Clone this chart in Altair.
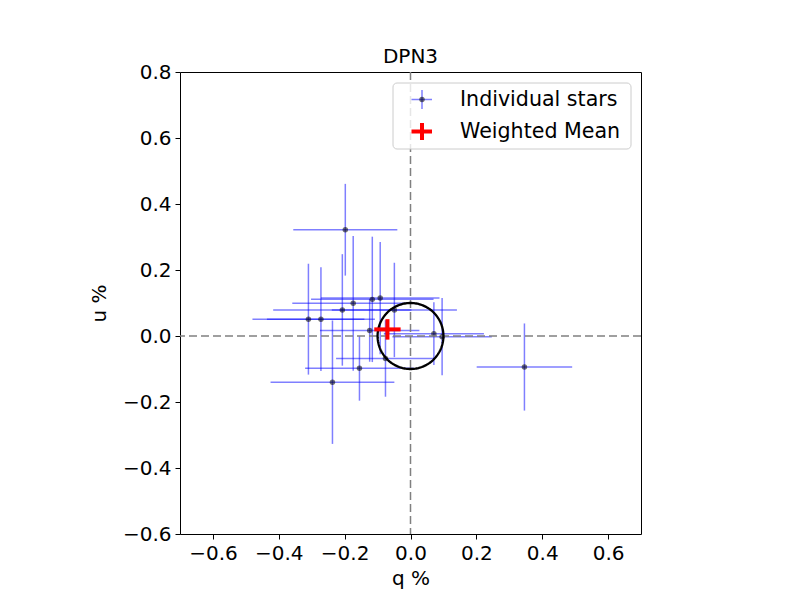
import altair as alt
import numpy as np
import pandas as pd

# Individual stars (q %, u %) with 1-sigma errors
q = [-0.198, -0.310, -0.272, -0.207, -0.174, -0.116, -0.092, -0.049, -0.124, 0.071, 0.096, -0.076, -0.155, -0.237, 0.346]
u = [0.322, 0.051, 0.051, 0.079, 0.099, 0.111, 0.115, 0.079, 0.017, 0.007, -0.002, -0.068, -0.098, -0.140, -0.094]
q_err = [0.158, 0.170, 0.164, 0.210, 0.185, 0.186, 0.180, 0.190, 0.151, 0.152, 0.151, 0.150, 0.165, 0.188, 0.145]
u_err = [0.139, 0.168, 0.157, 0.169, 0.204, 0.190, 0.170, 0.143, 0.095, 0.095, 0.117, 0.116, 0.098, 0.187, 0.132]

# Weighted mean
mean_q = [-0.070]
mean_u = [0.020]
mean_q_err = [0.040]
mean_u_err = [0.031]

circle_radius = 0.1
legend_labels = ["Individual stars", "Weighted Mean"]
title_text = "DPN3"
x_ticks = [-0.6, -0.4, -0.2, 0.0, 0.2, 0.4, 0.6]
y_ticks = [-0.6, -0.4, -0.2, 0.0, 0.2, 0.4, 0.6, 0.8]

FONT = "DejaVu Sans"

stars = pd.DataFrame({"q": q, "u": u, "qe": q_err, "ue": u_err})
stars["q_lo"] = stars.q - stars.qe
stars["q_hi"] = stars.q + stars.qe
stars["u_lo"] = stars.u - stars.ue
stars["u_hi"] = stars.u + stars.ue

mean = pd.DataFrame({"q": mean_q, "u": mean_u, "qe": mean_q_err, "ue": mean_u_err})
mean["q_lo"] = mean.q - mean.qe
mean["q_hi"] = mean.q + mean.qe
mean["u_lo"] = mean.u - mean.ue
mean["u_hi"] = mean.u + mean.ue

ang = np.linspace(0, 2 * np.pi, 181)
circ = pd.DataFrame({"i": np.arange(len(ang)), "q": circle_radius * np.cos(ang), "u": circle_radius * np.sin(ang)})

xs = alt.Scale(domain=[-0.7, 0.7], nice=False, zero=False)
ys = alt.Scale(domain=[-0.6, 0.8], nice=False, zero=False)
xax = alt.Axis(values=x_ticks, format=".1f", title="q %")
yax = alt.Axis(values=y_ticks, format=".1f", title="u %")

base = alt.Chart(stars)

xerr = base.mark_rule(color="blue", opacity=0.5, strokeWidth=1.5).encode(
    x=alt.X("q_lo:Q", scale=xs, axis=xax), x2="q_hi:Q", y=alt.Y("u:Q", scale=ys, axis=yax)
)
yerr = base.mark_rule(color="blue", opacity=0.5, strokeWidth=1.5).encode(
    x="q:Q", y="u_lo:Q", y2="u_hi:Q"
)
dots = base.mark_circle(color="black", opacity=0.55, size=30).encode(x="q:Q", y="u:Q")

vline = alt.Chart(pd.DataFrame({"v": [0.0]})).mark_rule(color="gray", strokeWidth=1.5, strokeDash=[8, 4]).encode(x="v:Q")
hline = alt.Chart(pd.DataFrame({"v": [0.0]})).mark_rule(color="gray", strokeWidth=1.5, strokeDash=[8, 4]).encode(y="v:Q")

ring = alt.Chart(circ).mark_line(color="black", strokeWidth=2.3).encode(x="q:Q", y="u:Q", order="i:Q")

mbase = alt.Chart(mean)
mx = mbase.mark_rule(color="red", strokeWidth=4).encode(x="q_lo:Q", x2="q_hi:Q", y="u:Q")
my = mbase.mark_rule(color="red", strokeWidth=4).encode(x="q:Q", y="u_lo:Q", y2="u_hi:Q")

# Legend (drawn in plot-area pixel space)
one = pd.DataFrame({"label": legend_labels})
lg_box = alt.Chart(one.head(1)).mark_rect(
    fill="white", fillOpacity=0.8, stroke="#cccccc", strokeWidth=1, cornerRadius=4
).encode(x=alt.value(213), x2=alt.value(451), y=alt.value(11), y2=alt.value(77))

l1 = alt.Chart(one.head(1))
lg1h = l1.mark_rule(color="blue", opacity=0.5, strokeWidth=1.5).encode(
    x=alt.value(231.5), x2=alt.value(252), y=alt.value(27.5))
lg1v = l1.mark_rule(color="blue", opacity=0.5, strokeWidth=1.5).encode(
    x=alt.value(242), y=alt.value(18), y2=alt.value(37))
lg1d = l1.mark_circle(color="black", opacity=0.55, size=30).encode(x=alt.value(242), y=alt.value(27.5))
l2 = alt.Chart(one.tail(1))
lg2h = l2.mark_rule(color="red", strokeWidth=4).encode(x=alt.value(231.5), x2=alt.value(252), y=alt.value(59.5))
lg2v = l2.mark_rule(color="red", strokeWidth=4).encode(x=alt.value(242), y=alt.value(51), y2=alt.value(68))

lg_t1 = l1.mark_text(align="left", baseline="middle", fontSize=20.6, font=FONT, color="black").encode(
    x=alt.value(280), y=alt.value(27.5), text="label:N")
lg_t2 = l2.mark_text(align="left", baseline="middle", fontSize=20.6, font=FONT, color="black").encode(
    x=alt.value(280), y=alt.value(59.5), text="label:N")

chart = alt.layer(
    xerr, yerr, dots, vline, hline, ring, mx, my,
    lg_box, lg1h, lg1v, lg1d, lg2h, lg2v, lg_t1, lg_t2
).properties(
    width=461, height=462,
    title=alt.TitleParams(title_text, fontSize=20, font=FONT, fontWeight="normal", color="black", offset=-5),
    autosize=alt.AutoSizeParams(type="none"),
    padding={"left": 172, "top": 64, "right": 140, "bottom": 60},
).configure_view(
    stroke="black", strokeWidth=1
).configure_axis(
    grid=False, domain=False, tickColor="black", tickSize=5, tickWidth=1,
    labelFontSize=20, titleFontSize=20, labelFont=FONT, titleFont=FONT,
    labelColor="black", titleColor="black", titleFontWeight="normal", labelPadding=4,
).configure_axisX(titlePadding=5).configure_axisY(titlePadding=13)

chart.save("out.html", embed_options={"renderer": "svg", "actions": False})
